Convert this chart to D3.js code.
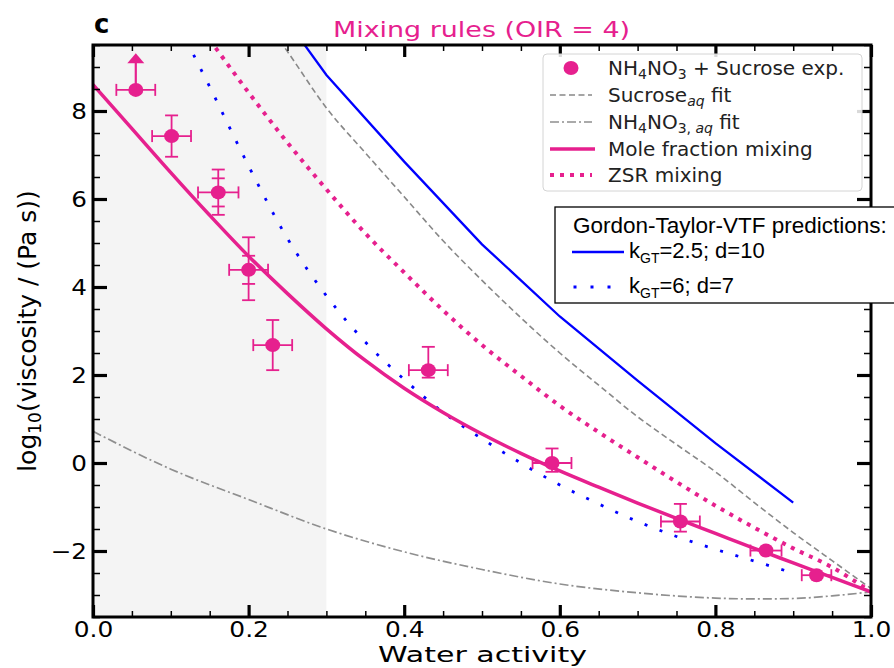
<!DOCTYPE html>
<html><head><meta charset="utf-8">
<script src="https://cdn.jsdelivr.net/npm/d3@7"></script>
<style>
html,body{margin:0;padding:0;background:#fff;}
svg{display:block;font-family:"DejaVu Sans",sans-serif;}
</style></head>
<body>
<svg id="chart" width="894" height="668"></svg>
<script>
// ---------------- data ----------------
const xMajorTicks = [0, 0.2, 0.4, 0.6, 0.8, 1.0];
const xTickLabels = ["0.0", "0.2", "0.4", "0.6", "0.8", "1.0"];
const xMinorTicks = [0.05,0.1,0.15,0.25,0.3,0.35,0.45,0.5,0.55,0.65,0.7,0.75,0.85,0.9,0.95];
const yMajorTicks = [-2, 0, 2, 4, 6, 8];
const yTickLabels = ["\u22122", "0", "2", "4", "6", "8"];
const yMinorTicks = [-3.5,-3,-2.5,-1.5,-1,-0.5,0.5,1,1.5,2.5,3,3.5,4.5,5,5.5,6.5,7,7.5,8.5,9,9.5];
const shadedRange = [0, 0.3];

// experiments: NH4NO3 + Sucrose
const expX       = [0.055, 0.101, 0.161, 0.200, 0.231, 0.431, 0.590, 0.755, 0.865, 0.930];
const expY       = [8.48, 7.43, 6.15, 4.39, 2.68, 2.11, 0.00, -1.33, -1.99, -2.55];
const expXerr    = [0.025, 0.025, 0.026, 0.025, 0.025, 0.025, 0.025, 0.025, 0.020, 0.019];
const expYerrUp  = [0, 0.47, 0.52, 0.74, 0.57, 0.53, 0.33, 0.40, 0, 0];
const expYerrDn  = [0, 0.47, 0.51, 0.69, 0.57, 0.17, 0.20, 0.23, 0, 0];
const expYerrIn  = [0, 0, 0.32, 0.32, 0, 0, 0, 0, 0, 0];
const arrowX = [0.055], arrowFrom = [8.48], arrowTo = [9.31];

// curves
const moleX = [0,0.05,0.1,0.15,0.2,0.25,0.3,0.35,0.4,0.45,0.5,0.55,0.6,0.65,0.7,0.75,0.8,0.85,0.9,0.95,1.0];
const moleY = [8.6,7.6,6.6,5.63,4.7,3.85,3.05,2.33,1.7,1.15,0.66,0.22,-0.18,-0.55,-0.91,-1.26,-1.6,-1.94,-2.27,-2.6,-2.93];

const zsrX = [0.15,0.2,0.25,0.3,0.35,0.4,0.45,0.5,0.55,0.6,0.65,0.7,0.75,0.8,0.85,0.9,0.95,1.0];
const zsrY = [9.62,8.42,7.28,6.22,5.22,4.33,3.47,2.68,1.98,1.3,0.7,0.13,-0.43,-0.97,-1.47,-1.94,-2.37,-2.93];

const sucX = [0.24,0.25,0.3,0.35,0.4,0.45,0.5,0.55,0.6,0.65,0.7,0.75,0.8,0.85,0.9,0.95,1.0];
const sucY = [9.6,9.35,8.07,7.05,6.05,5.05,4.15,3.3,2.5,1.77,1.05,0.42,-0.2,-0.9,-1.58,-2.22,-2.85];

const nh4X = [0,0.1,0.2,0.3,0.4,0.5,0.6,0.7,0.8,0.85,0.9,0.95,1.0];
const nh4Y = [0.72,-0.14,-0.83,-1.5,-2.02,-2.42,-2.75,-2.95,-3.07,-3.09,-3.08,-3.02,-2.93];

const gt1X = [0.27,0.3,0.4,0.5,0.6,0.7,0.8,0.9];
const gt1Y = [9.55,8.82,6.85,4.97,3.33,1.87,0.45,-0.9];

const gt2X = [0.12,0.15,0.2,0.25,0.3,0.35,0.4,0.45,0.5,0.55,0.6,0.65,0.7,0.75,0.8,0.85,0.9];
const gt2Y = [9.6,8.55,6.75,5.1,3.8,2.75,1.9,1.15,0.55,0.0,-0.5,-0.93,-1.33,-1.67,-1.96,-2.23,-2.5];

// ---------------- drawing ----------------
const PINK = "#e6208e", BLUE = "#0000ff";
const L = 93, R = 871, T = 45, B = 617;
const svg = d3.select("#chart");
const x = d3.scaleLinear().domain([0, 1]).range([L, R]);
const y = d3.scaleLinear().domain([-3.5, 9.5]).range([B, T]);

svg.append("defs").append("clipPath").attr("id","plotclip")
  .append("rect").attr("x", L).attr("y", T).attr("width", R - L).attr("height", B - T);

// shaded region
svg.append("rect").attr("x", x(shadedRange[0])).attr("y", T)
  .attr("width", x(shadedRange[1]) - x(shadedRange[0])).attr("height", B - T)
  .attr("fill", "#f4f4f4");

const plot = svg.append("g").attr("clip-path", "url(#plotclip)");
const zipXY = (xs, ys) => xs.map((v, i) => [v, ys[i]]);
const smooth = d3.line().x(d => x(d[0])).y(d => y(d[1])).curve(d3.curveMonotoneX);
const lin = d3.line().x(d => x(d[0])).y(d => y(d[1]));

plot.append("path").attr("d", smooth(zipXY(nh4X, nh4Y))).attr("fill","none")
  .attr("stroke","#8f8f8f").attr("stroke-width",1.7).attr("stroke-dasharray","9,3,2,3");
plot.append("path").attr("d", smooth(zipXY(sucX, sucY))).attr("fill","none")
  .attr("stroke","#888").attr("stroke-width",1.6).attr("stroke-dasharray","6,3.5");
plot.append("path").attr("d", lin(zipXY(gt1X, gt1Y))).attr("fill","none")
  .attr("stroke",BLUE).attr("stroke-width",2.3);
plot.append("path").attr("d", smooth(zipXY(gt2X, gt2Y))).attr("fill","none")
  .attr("stroke",BLUE).attr("stroke-width",2.8).attr("stroke-dasharray","3,13");
plot.append("path").attr("d", smooth(zipXY(zsrX, zsrY))).attr("fill","none")
  .attr("stroke",PINK).attr("stroke-width",4).attr("stroke-dasharray","4,6");
plot.append("path").attr("d", smooth(zipXY(moleX, moleY))).attr("fill","none")
  .attr("stroke",PINK).attr("stroke-width",3.5);

// experimental points
const pts = plot.append("g").attr("stroke", PINK).attr("fill", PINK).attr("stroke-width", 1.8);
expX.forEach((xv, i) => {
  const cx = x(xv), cy = y(expY[i]);
  const x0 = x(xv - expXerr[i]), x1 = x(xv + expXerr[i]);
  pts.append("line").attr("x1", x0).attr("x2", x1).attr("y1", cy).attr("y2", cy);
  [x0, x1].forEach(xx => pts.append("line").attr("x1", xx).attr("x2", xx).attr("y1", cy - 6).attr("y2", cy + 6));
  if (expYerrUp[i] > 0 || expYerrDn[i] > 0) {
    const yt = y(expY[i] + expYerrUp[i]), yb = y(expY[i] - expYerrDn[i]);
    pts.append("line").attr("x1", cx).attr("x2", cx).attr("y1", yt).attr("y2", yb);
    [yt, yb].forEach(yy => pts.append("line").attr("x1", cx - 6.5).attr("x2", cx + 6.5).attr("y1", yy).attr("y2", yy));
  }
  if (expYerrIn[i] > 0) {
    [y(expY[i] + expYerrIn[i]), y(expY[i] - expYerrIn[i])].forEach(yy =>
      pts.append("line").attr("x1", cx - 6.5).attr("x2", cx + 6.5).attr("y1", yy).attr("y2", yy));
  }
  pts.append("ellipse").attr("cx", cx).attr("cy", cy).attr("rx", 7.5).attr("ry", 7).attr("stroke", "none");
});
arrowX.forEach((xv, i) => {
  const cx = x(xv), tip = y(arrowTo[i]);
  pts.append("line").attr("x1", cx).attr("x2", cx).attr("y1", y(arrowFrom[i])).attr("y2", tip + 9).attr("stroke-width", 2.2);
  pts.append("path").attr("d", `M${cx},${tip} L${cx + 8.5},${tip + 10} L${cx - 8.5},${tip + 10} Z`).attr("stroke", "none");
});

// axes with inward ticks
function styleAxis(g, w) {
  g.select(".domain").remove();
  g.selectAll(".tick line").attr("stroke", "#000").attr("stroke-width", w);
}
const fmtX = (d) => xTickLabels[xMajorTicks.indexOf(d)];
const fmtY = (d) => yTickLabels[yMajorTicks.indexOf(d)];

const gxMin = svg.append("g").attr("transform", `translate(0,${B})`)
  .call(d3.axisBottom(x).tickValues(xMinorTicks).tickSize(-6).tickFormat(""));
styleAxis(gxMin, 1.5);
const gx = svg.append("g").attr("transform", `translate(0,${B})`)
  .call(d3.axisBottom(x).tickValues(xMajorTicks).tickSize(-12).tickPadding(4.5).tickFormat(fmtX));
styleAxis(gx, 3.2);
const gtMin = svg.append("g").attr("transform", `translate(0,${T})`)
  .call(d3.axisTop(x).tickValues(xMinorTicks).tickSize(-6).tickFormat(""));
styleAxis(gtMin, 1.5);
const gt = svg.append("g").attr("transform", `translate(0,${T})`)
  .call(d3.axisTop(x).tickValues(xMajorTicks).tickSize(-12).tickFormat(""));
styleAxis(gt, 3.2);
const gyMin = svg.append("g").attr("transform", `translate(${L},0)`)
  .call(d3.axisLeft(y).tickValues(yMinorTicks).tickSize(-7).tickFormat(""));
styleAxis(gyMin, 1.5);
const gy = svg.append("g").attr("transform", `translate(${L},0)`)
  .call(d3.axisLeft(y).tickValues(yMajorTicks).tickSize(-14).tickPadding(6).tickFormat(fmtY));
styleAxis(gy, 3.2);
const grMin = svg.append("g").attr("transform", `translate(${R},0)`)
  .call(d3.axisRight(y).tickValues(yMinorTicks).tickSize(-7).tickFormat(""));
styleAxis(grMin, 1.5);
const gr = svg.append("g").attr("transform", `translate(${R},0)`)
  .call(d3.axisRight(y).tickValues(yMajorTicks).tickSize(-14).tickFormat(""));
styleAxis(gr, 3.2);

[gx, gy].forEach(g => g.selectAll(".tick text")
  .attr("font-family", "DejaVu Sans, sans-serif").attr("font-size", 22).attr("fill", "#000"));
gx.selectAll(".tick text").each(function () {
  const len = this.getComputedTextLength();
  d3.select(this).attr("textLength", len * 1.13).attr("lengthAdjust", "spacingAndGlyphs");
});
gy.selectAll(".tick text").each(function () {
  const len = this.getComputedTextLength();
  d3.select(this).attr("textLength", len * 1.12).attr("lengthAdjust", "spacingAndGlyphs");
});

// frame
svg.append("rect").attr("x", L).attr("y", T).attr("width", R - L).attr("height", B - T)
  .attr("fill", "none").attr("stroke", "#000").attr("stroke-width", 3);

// titles & labels
svg.append("text").attr("x", 94).attr("y", 33).attr("font-size", 26).attr("font-weight", "bold").text("c");
svg.append("text").attr("x", 481.5).attr("y", 36.5).attr("text-anchor", "middle")
  .attr("font-size", 21).attr("fill", PINK).attr("textLength", 297).attr("lengthAdjust", "spacingAndGlyphs")
  .text("Mixing rules (OIR = 4)");
svg.append("text").attr("x", 482.5).attr("y", 662).attr("text-anchor", "middle")
  .attr("font-size", 21).attr("textLength", 209).attr("lengthAdjust", "spacingAndGlyphs")
  .text("Water activity");
const yl = svg.append("text").attr("transform", "translate(36,331) rotate(-90)")
  .attr("text-anchor", "middle").attr("font-size", 25);
yl.append("tspan").text("log");
yl.append("tspan").attr("font-size", 17).attr("dy", 5).text("10");
yl.append("tspan").attr("dy", -5).text("(viscosity / (Pa s))");

// legend 1
const lg = svg.append("g");
lg.append("rect").attr("x", 543).attr("y", 54).attr("width", 319).attr("height", 137).attr("rx", 4)
  .attr("fill", "#fff").attr("fill-opacity", 0.85).attr("stroke", "#d4d4d4").attr("stroke-width", 1);
const rowsY = [68, 95, 122, 149, 175];
const hx0 = 550, hx1 = 592, tx = 608;
lg.append("ellipse").attr("cx", 571).attr("cy", rowsY[0]).attr("rx", 7.5).attr("ry", 7).attr("fill", PINK);
lg.append("line").attr("x1", hx0).attr("x2", hx1).attr("y1", rowsY[1]).attr("y2", rowsY[1])
  .attr("stroke", "#888").attr("stroke-width", 1.6).attr("stroke-dasharray", "6,3.5");
lg.append("line").attr("x1", hx0).attr("x2", hx1).attr("y1", rowsY[2]).attr("y2", rowsY[2])
  .attr("stroke", "#8f8f8f").attr("stroke-width", 1.7).attr("stroke-dasharray", "9,3,2,3");
lg.append("line").attr("x1", hx0).attr("x2", hx1 + 3).attr("y1", rowsY[3]).attr("y2", rowsY[3])
  .attr("stroke", PINK).attr("stroke-width", 3.5);
lg.append("line").attr("x1", hx0).attr("x2", hx1).attr("y1", rowsY[4]).attr("y2", rowsY[4])
  .attr("stroke", PINK).attr("stroke-width", 4).attr("stroke-dasharray", "4,6");

function legText(yv) {
  return lg.append("text").attr("x", tx).attr("y", yv + 7).attr("font-size", 20).attr("fill", "#222");
}
let t = legText(rowsY[0]);
t.append("tspan").text("NH");
t.append("tspan").attr("font-size", 14).attr("dy", 4).text("4");
t.append("tspan").attr("dy", -4).text("NO");
t.append("tspan").attr("font-size", 14).attr("dy", 4).text("3");
t.append("tspan").attr("dy", -4).text(" + Sucrose exp.");
t = legText(rowsY[1]);
t.append("tspan").text("Sucrose");
t.append("tspan").attr("font-size", 14).attr("dy", 4).attr("font-style", "italic").text("aq");
t.append("tspan").attr("dy", -4).text(" fit");
t = legText(rowsY[2]);
t.append("tspan").text("NH");
t.append("tspan").attr("font-size", 14).attr("dy", 4).text("4");
t.append("tspan").attr("dy", -4).text("NO");
t.append("tspan").attr("font-size", 14).attr("dy", 4).text("3,");
t.append("tspan").attr("font-size", 14).attr("font-style", "italic").text(" aq");
t.append("tspan").attr("dy", -4).text(" fit");
legText(rowsY[3]).text("Mole fraction mixing");
legText(rowsY[4]).text("ZSR mixing");

// legend 2
const lg2 = svg.append("g").attr("font-family", "Liberation Sans, Arial, sans-serif");
lg2.append("rect").attr("x", 555).attr("y", 207).attr("width", 360).attr("height", 96)
  .attr("fill", "#fff").attr("stroke", "#000").attr("stroke-width", 1.3);
lg2.append("text").attr("x", 573).attr("y", 233).attr("font-size", 22.5).text("Gordon-Taylor-VTF predictions:");
lg2.append("line").attr("x1", 572).attr("x2", 624).attr("y1", 252).attr("y2", 252)
  .attr("stroke", BLUE).attr("stroke-width", 2.5);
lg2.append("line").attr("x1", 573.5).attr("x2", 612).attr("y1", 287).attr("y2", 287)
  .attr("stroke", BLUE).attr("stroke-width", 2.8).attr("stroke-dasharray", "3,14");
t = lg2.append("text").attr("x", 629).attr("y", 258).attr("font-size", 22);
t.append("tspan").text("k");
t.append("tspan").attr("font-size", 14).attr("dy", 5).text("GT");
t.append("tspan").attr("dy", -5).text("=2.5; d=10");
t = lg2.append("text").attr("x", 629).attr("y", 293).attr("font-size", 22);
t.append("tspan").text("k");
t.append("tspan").attr("font-size", 14).attr("dy", 5).text("GT");
t.append("tspan").attr("dy", -5).text("=6; d=7");
</script>
</body></html>
